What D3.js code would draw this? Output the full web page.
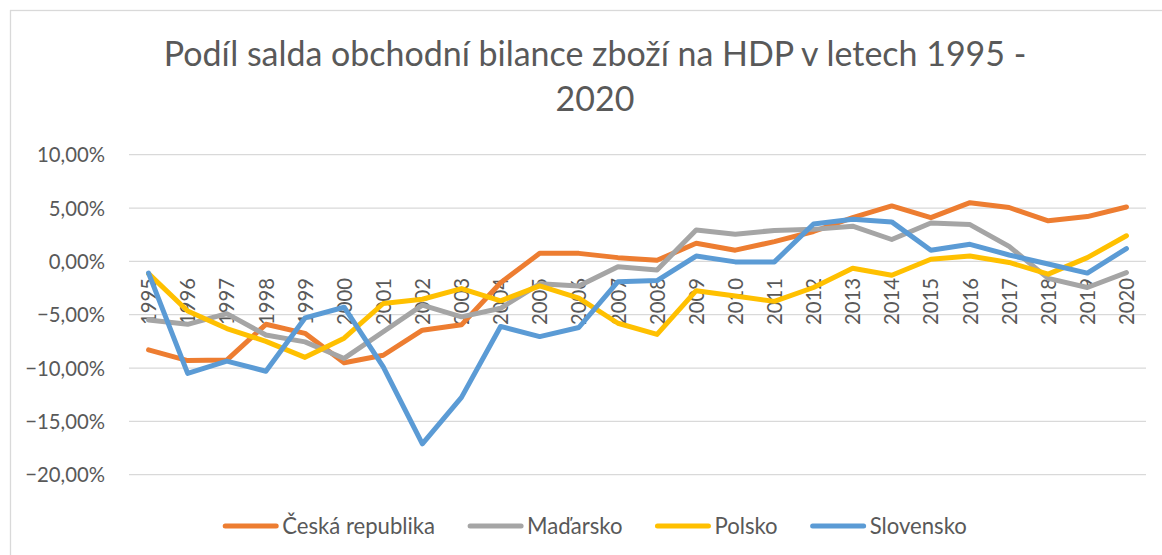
<!DOCTYPE html>
<html><head><meta charset="utf-8">
<script src="https://cdn.jsdelivr.net/npm/d3@7"></script>
<style>
html,body{margin:0;padding:0;background:#fff;}
svg{display:block;font-family:Lato, "Open Sans", sans-serif;}
</style></head>
<body>
<svg id="chart" width="1162" height="555"></svg>
<script>
const years = ["1995","1996","1997","1998","1999","2000","2001","2002","2003","2004","2005","2006","2007","2008","2009","2010","2011","2012","2013","2014","2015","2016","2017","2018","2019","2020"];
const seriesNames = ["Česká republika","Maďarsko","Polsko","Slovensko"];
const ceskaRepublika = [-8.3,-9.3,-9.25,-5.9,-6.75,-9.5,-8.8,-6.45,-5.95,-2.0,0.75,0.75,0.35,0.1,1.7,1.05,1.85,2.8,4.1,5.2,4.1,5.5,5.05,3.8,4.2,5.1];
const madarsko = [-5.5,-5.9,-4.9,-6.9,-7.55,-9.1,-6.6,-4.1,-5.2,-4.4,-2.1,-2.3,-0.5,-0.8,2.95,2.55,2.9,3.0,3.3,2.05,3.6,3.45,1.4,-1.6,-2.45,-1.05];
const polsko = [-1.15,-4.65,-6.3,-7.5,-9.0,-7.2,-3.95,-3.55,-2.55,-3.7,-2.3,-3.45,-5.8,-6.85,-2.75,-3.25,-3.75,-2.45,-0.65,-1.3,0.2,0.5,-0.1,-1.2,0.35,2.4];
const slovensko = [-1.1,-10.5,-9.35,-10.3,-5.3,-4.3,-9.9,-17.1,-12.75,-6.1,-7.05,-6.2,-1.9,-1.8,0.5,-0.05,-0.05,3.5,3.95,3.7,1.05,1.6,0.6,-0.25,-1.1,1.2];
const yTicks = [10,5,0,-5,-10,-15,-20];
const colors = ["#ED7D31","#A5A5A5","#FFC000","#5B9BD5"];
const titleLines = ["Podíl salda obchodní bilance zboží na HDP v letech 1995 -","2020"];

const allSeries = [ceskaRepublika, madarsko, polsko, slovensko];
const svg = d3.select("#chart");
const textColor = "#595959";

// chart border
svg.append("rect").attr("x",10.5).attr("y",10.5).attr("width",1300).attr("height",700)
  .attr("fill","none").attr("stroke","#D9D9D9").attr("stroke-width",1.3);

// helper: font size so text has given width
function fitSize(str, target){
  const t = svg.append("text").attr("font-size",100).text(str);
  const w = t.node().getComputedTextLength();
  t.remove();
  return 100*target/w;
}

const plotLeft = 129, plotRight = 1146, plotTop = 154.7, plotBottom = 474.7;
const x = d3.scaleBand().domain(years).range([plotLeft,plotRight]);
const y = d3.scaleLinear().domain([-20,10]).range([plotBottom,plotTop]);

// title
const titleSize = fitSize(titleLines[0], 863);
svg.append("text").attr("x",595).attr("y",66).attr("text-anchor","middle")
  .attr("font-size",titleSize).attr("fill",textColor).text(titleLines[0]);
svg.append("text").attr("x",595).attr("y",111).attr("text-anchor","middle")
  .attr("font-size",titleSize).attr("fill",textColor).text(titleLines[1]);

// gridlines
const fmt = v => d3.format(".2f")(v).replace(".",",") + "%";
svg.append("g").selectAll("line").data(yTicks).join("line")
  .attr("x1",plotLeft).attr("x2",plotRight).attr("y1",d=>y(d)).attr("y2",d=>y(d))
  .attr("stroke","#D9D9D9").attr("stroke-width",1.3);

// y axis labels
const axisSize = fitSize("10,00%", 68);
const yAxis = d3.axisLeft(y).tickValues(yTicks).tickFormat(fmt).tickSize(0).tickPadding(0);
const yg = svg.append("g").attr("transform",`translate(105,0)`).call(yAxis);
yg.select(".domain").remove();
yg.selectAll("text").attr("font-size",axisSize).attr("fill",textColor)
  .attr("font-family","Lato, 'Open Sans', sans-serif").attr("dy","0.35em");

// x axis labels (rotated)
svg.append("g").selectAll("text").data(years).join("text")
  .attr("transform",d=>`translate(${x(d)+x.bandwidth()/2+0.5},278) rotate(-90)`)
  .attr("text-anchor","end").attr("dy","0.35em")
  .attr("font-size",axisSize).attr("fill",textColor).text(d=>d);

// lines
const line = d3.line().x((d,i)=>x(years[i])+x.bandwidth()/2).y(d=>y(d));
svg.append("g").selectAll("path").data(allSeries).join("path")
  .attr("d",d=>line(d)).attr("fill","none")
  .attr("stroke",(d,i)=>colors[i]).attr("stroke-width",5)
  .attr("stroke-linejoin","round").attr("stroke-linecap","round");

// legend
const legSize = fitSize("Česká republika", 153);
const lineLen = 55, gap = 4, itemGap = 33;
const lg = svg.append("g");
const widths = seriesNames.map(n=>{
  const t = lg.append("text").attr("font-size",legSize).text(n);
  const w = t.node().getComputedTextLength(); t.remove(); return w;
});
const total = d3.sum(widths) + seriesNames.length*(lineLen+gap) + (seriesNames.length-1)*itemGap;
let cx = 595 - total/2;
const ly = 526;
seriesNames.forEach((n,i)=>{
  lg.append("line").attr("x1",cx+2).attr("x2",cx+lineLen-2).attr("y1",ly).attr("y2",ly)
    .attr("stroke",colors[i]).attr("stroke-width",5).attr("stroke-linecap","round");
  lg.append("text").attr("x",cx+lineLen+gap).attr("y",ly).attr("dy","0.35em")
    .attr("font-size",legSize).attr("fill",textColor).text(n);
  cx += lineLen + gap + widths[i] + itemGap;
});
</script>
</body></html>
